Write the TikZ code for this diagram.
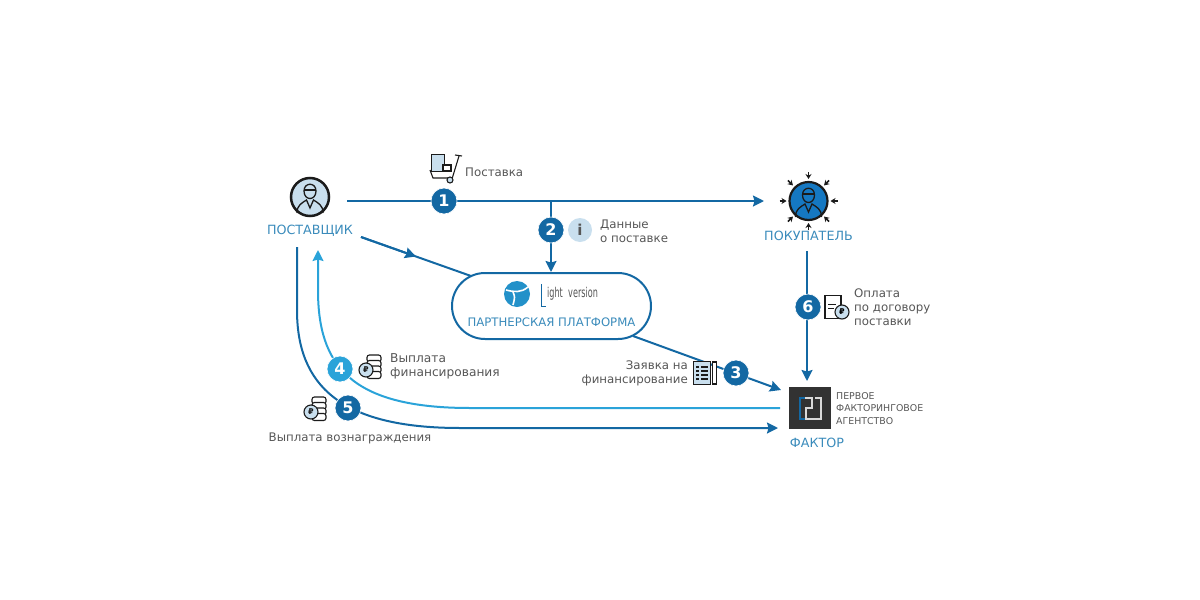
\documentclass[tikz,border=0pt]{standalone}
\usepackage{fontspec}
\setmainfont{DejaVu Sans}
\usetikzlibrary{calc}
\usetikzlibrary{arrows.meta}
\definecolor{flowDark}{HTML}{1368A3}
\definecolor{flowLight}{HTML}{2AA3D9}
\definecolor{titleBlue}{HTML}{3A8BBB}
\definecolor{paleBlue}{HTML}{C9DFEE}
\definecolor{buyerBlue}{HTML}{1578C2}
\definecolor{labelGrey}{HTML}{565656}
\definecolor{inkBlack}{HTML}{1B1B1B}
\tikzstyle{flow} = [draw=flowDark, line width=2pt]
\tikzstyle{flowlight} = [draw=flowLight, line width=2pt]
\tikzstyle{tip} = [-{Stealth[length=11pt,width=11pt,inset=1.5pt]}]
\tikzstyle{badge} = [circle, fill=flowDark, draw=white, line width=0.6pt, minimum size=26pt, inner sep=0pt, text=white, font=\fontsize{16}{16}\selectfont\bfseries]
\tikzstyle{caption} = [text=labelGrey, font=\fontsize{11.8}{14}\selectfont, inner sep=0pt]
\tikzstyle{title} = [text=titleBlue, font=\fontsize{12.7}{14}\selectfont, inner sep=0pt]
\tikzstyle{icon} = [draw=inkBlack, line width=1.1pt]
\tikzset{
  person/.pic={
    \draw[icon, line width=1.3pt] (-6,-6) .. controls (-6,-15) and (6,-15) .. (6,-6) .. controls (6,4) and (-6,4) .. (-6,-6);
    \draw[icon, line width=1.3pt] (-13,16) .. controls (-13,8) and (-8,6) .. (-3.5,3) -- (0,11) -- (3.5,3) .. controls (8,6) and (13,8) .. (13,16);
    \draw[icon, line width=1.3pt] (-6,-7) -- (6,-7);
  },
  coins/.pic={
    \foreach \level in {-12,-6.5,-1,4.5} {
      \draw[icon, fill=white, rounded corners=2.4pt] (-7,\level) rectangle (7,\level+7);
    }
    \draw[icon, fill=paleBlue] (-8,3) circle (7);
    \node[inner sep=0pt, text=inkBlack, font=\fontsize{8}{8}\selectfont\bfseries] (coin_sign) at (-8,3) {₽};
  }
}
\begin{document}
\begin{tikzpicture}[x=1pt,y=-1pt]
\useasboundingbox (0,0) rectangle (1200,600);
% parties
\node[circle, draw=inkBlack, fill=paleBlue, line width=2.5pt, minimum size=38pt, inner sep=0pt] (supplier) at (310,197) {};
\pic at (supplier) {person};
\node[title] (supplier_lbl) at ($(supplier)+(0,34)$) {ПОСТАВЩИК};
\node[circle, draw=inkBlack, fill=buyerBlue, line width=2.2pt, minimum size=38pt, inner sep=0pt] (buyer) at (808.5,201) {};
\pic at (buyer) {person};
\foreach \ang in {0,45,...,315} {
  \draw[inkBlack, line width=1.5pt, -{Stealth[length=5pt,width=6pt]}] ($(buyer)+(\ang:29)$) -- ($(buyer)+(\ang:22)$);
}
\node[title] (buyer_lbl) at ($(buyer)+(0,35)$) {ПОКУПАТЕЛЬ};
\node[draw=flowDark, fill=white, line width=2pt, rounded corners=33pt, minimum width=199pt, minimum height=66pt, inner sep=0pt] (platform) at (551.5,306) {};
\node[title, font=\fontsize{11.7}{14}\selectfont] (platform_lbl) at ($(platform)+(0,16)$) {ПАРТНЕРСКАЯ ПЛАТФОРМА};
\node[fill=inkBlack!90, minimum size=42pt, inner sep=0pt] (factor) at (810,408) {};
\node[title] (factor_lbl) at ($(factor)+(7,35)$) {ФАКТОР};
% free ends
\coordinate (supply_start) at (347,201);
\coordinate (supply_end) at (764,201);
\coordinate (data_start) at (551,201);
\coordinate (sup_out) at (361,237);
\coordinate (plat_in) at (471,276);
\coordinate (plat_out) at (633,336);
\coordinate (factor_top) at (781,390);
\coordinate (fund_start) at (780,408);
\coordinate (fund_end) at (318,250);
\coordinate (fee_start) at (297,247);
\coordinate (fee_end) at (778,428);
\coordinate (pay_start) at (807,251);
\coordinate (pay_end) at (807,381);
% connectors
\draw[flow, tip] (supply_start) -- (supply_end);
\draw[flow, tip] (data_start) -- (platform.north -| data_start);
\draw[flow] (sup_out) -- (plat_in);
\draw[flow, tip] (sup_out) -- ($(sup_out)!0.5!(plat_in)$);
\draw[flow, tip] (plat_out) -- (factor_top);
\draw[flowlight, tip] (fund_start) -- (470,408) .. controls (350,408) and (318,365) .. (318,290) -- (fund_end);
\draw[flow, tip] (fee_start) -- (297,310) .. controls (297,385) and (340,428) .. (460,428) -- (fee_end);
\draw[flow, tip] (pay_start) -- (pay_end);
% steps
\node[badge] (step1) at (444,201) {1};
\node[badge] (step2) at (551,230) {2};
\node[badge] (step3) at (736,373) {3};
\node[badge, fill=flowLight] (step4) at (340,369) {4};
\node[badge] (step5) at (348,408) {5};
\node[badge] (step6) at (808,307) {6};
% delivery icon
\node[icon, fill=paleBlue, minimum width=13pt, minimum height=17pt, inner sep=0pt] (cart_doc) at (438,163) {};
\draw[icon] (430,170) -- (433,178) -- (450,178);
\draw[icon, fill=white] (443,165) rectangle (451,171);
\draw[icon] (459,156) -- (452,179);
\draw[icon] (455,155) -- (462,156);
\node[circle, icon, fill=paleBlue, minimum size=6pt, inner sep=0pt] (cart_wheel) at (450,180) {};
\node[caption, anchor=west] (supply_txt) at (465,172.5) {Поставка};
% info
\node[circle, fill=paleBlue, minimum size=24pt, inner sep=0pt, text=labelGrey, font=\fontsize{15}{15}\selectfont\bfseries] (info) at (580,230) {i};
\node[caption, anchor=west, align=left] (data_txt) at (600,231.5) {Данные\\о поставке};
% platform logo
\node[circle, fill=flowLight!70!flowDark, minimum size=26pt, inner sep=0pt] (logo_ball) at (517,294) {};
\draw[white, line width=1.6pt] ($(logo_ball)+(-11,-4)$) .. controls ($(logo_ball)+(-3,-2)$) and ($(logo_ball)+(4,-1)$) .. ($(logo_ball)+(11,-7)$);
\draw[white, line width=1.6pt] ($(logo_ball)+(-4,-2)$) .. controls ($(logo_ball)+(-2,3)$) .. ($(logo_ball)+(-4,11)$);
\node[inner sep=0pt, text=labelGrey, xscale=0.6, font=\fontsize{13.5}{13.5}\selectfont, anchor=west] (logo_txt) at (547,294) {ight\hspace{9pt}version};
\draw[flowDark, line width=1pt] (541,284) -- (541,306) -- (546,306);
% request
\node[caption, anchor=east, align=right] (request_txt) at (688,373.5) {Заявка на\\финансирование};
\node[icon, fill=paleBlue, minimum width=17pt, minimum height=23pt, inner sep=0pt, line width=1.5pt] (request_sheet) at (702,373) {};
\foreach \row in {-6,-2,2,6} {
  \draw[inkBlack, line width=1.3pt] ($(request_sheet)+(-1,\row)$) -- ($(request_sheet)+(6,\row)$);
  \draw[inkBlack, line width=1.3pt] ($(request_sheet)+(-6,\row)$) -- ($(request_sheet)+(-3,\row)$);
}
\node[icon, fill=white, minimum width=4pt, minimum height=22pt, inner sep=0pt] (request_pen) at (714.5,373) {};
% funding
\pic at (374,367) {coins};
\node[caption, anchor=west, align=left, font=\fontsize{12.2}{14}\selectfont] (fund_txt) at (390,366.5) {Выплата\\финансирования};
\pic at (319,409) {coins};
\node[caption, anchor=center] (fee_txt) at (350,438.5) {Выплата вознаграждения};
% payment
\node[icon, fill=white, minimum width=16pt, minimum height=23pt, inner sep=0pt] (pay_doc) at (833,307) {};
\draw[inkBlack, line width=1pt] ($(pay_doc)+(-5,-3)$) -- ($(pay_doc)+(3,-3)$);
\draw[inkBlack, line width=1pt] ($(pay_doc)+(-5,1)$) -- ($(pay_doc)+(1,1)$);
\node[circle, icon, fill=paleBlue, minimum size=14pt, inner sep=0pt, font=\fontsize{8}{8}\selectfont\bfseries] (pay_coin) at (842,312) {₽};
\node[caption, anchor=west, align=left] (pay_txt) at (854,307) {Оплата\\по договору\\поставки};
% factor logo
\draw[flowDark, line width=1.4pt] (812,398) -- (800,398) -- (800,419) -- (811,419);
\draw[white!85!black, line width=1.4pt] (805,398) -- (812,398) -- (812,408) -- (806,408) -- (806,419) -- (821,419) -- (821,398) -- (815,398);
\node[inner sep=0pt, text=labelGrey, font=\fontsize{9.4}{12.8}\selectfont, anchor=west, align=left] (factor_txt) at (836,408.5) {ПЕРВОЕ\\ФАКТОРИНГОВОЕ\\АГЕНТСТВО};
\end{tikzpicture}
\end{document}
